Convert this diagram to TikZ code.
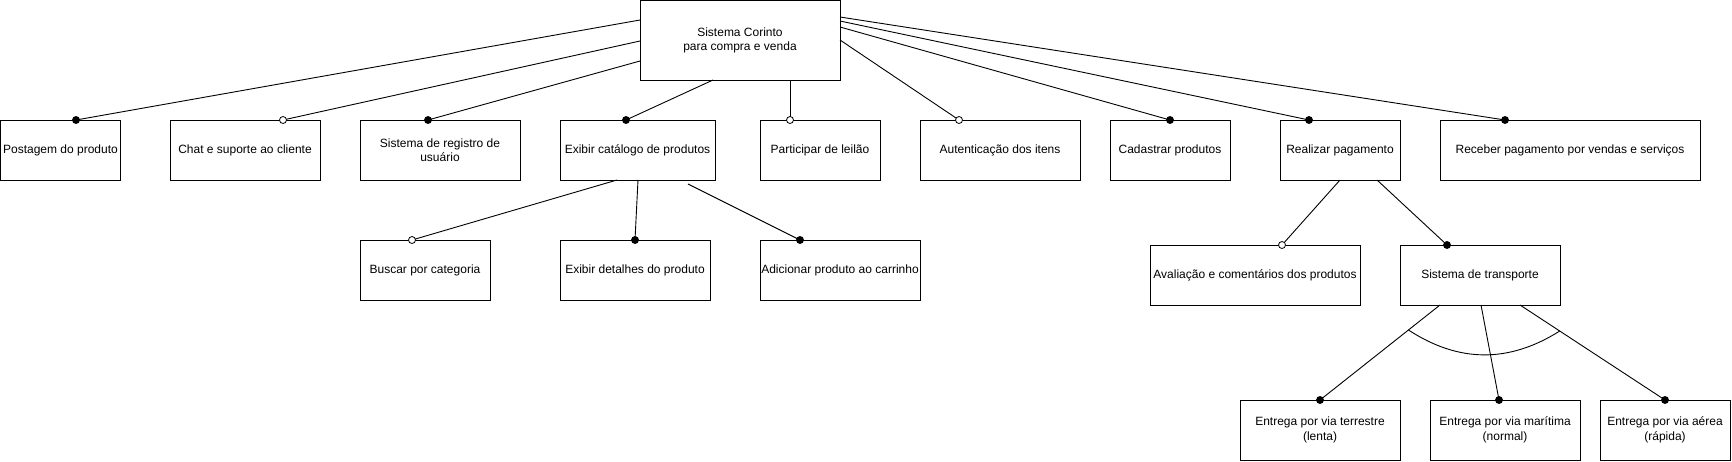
\documentclass[tikz,border=0pt]{standalone}
\usepackage{fontspec}
\setmainfont{Liberation Sans}
\usetikzlibrary{calc}
\begin{document}
\begin{tikzpicture}[x=1pt,y=-1pt,
  box/.style={draw,line width=1pt,inner sep=1pt,outer sep=0pt,anchor=north west,align=center,font=\fontsize{12}{14.5}\selectfont},
  link/.style={line width=0.9pt},
  mand/.style={circle,fill=black,draw=black,line width=0.8pt,minimum size=7pt,inner sep=0pt},
  opt/.style={circle,fill=white,draw=black,line width=0.8pt,minimum size=7pt,inner sep=0pt}]
\useasboundingbox (0,0) rectangle (1732,461);
% boxes
\node[box,minimum width=200pt,minimum height=79.5pt] (root) at (640,0.5) {Sistema Corinto\\para compra e venda};
\node[box,minimum width=120pt,minimum height=60pt] (post) at (0.5,120) {Postagem do produto};
\node[box,minimum width=150pt,minimum height=60pt] (chat) at (170,120) {Chat e suporte ao cliente};
\node[box,minimum width=160pt,minimum height=60pt] (reg) at (360,120) {Sistema de registro de\\usuário};
\node[box,minimum width=155pt,minimum height=60pt] (cat) at (560,120) {Exibir catálogo de produtos};
\node[box,minimum width=120pt,minimum height=60pt] (leil) at (760,120) {Participar de leilão};
\node[box,minimum width=160pt,minimum height=60pt] (aut) at (920,120) {Autenticação dos itens};
\node[box,minimum width=120pt,minimum height=60pt] (cad) at (1110,120) {Cadastrar produtos};
\node[box,minimum width=120pt,minimum height=60pt] (real) at (1280,120) {Realizar pagamento};
\node[box,minimum width=260pt,minimum height=60pt] (rec) at (1440,120) {Receber pagamento por vendas e serviços};
\node[box,minimum width=130pt,minimum height=60pt] (busc) at (360,240) {Buscar por categoria};
\node[box,minimum width=150pt,minimum height=60pt] (det) at (560,240) {Exibir detalhes do produto};
\node[box,minimum width=160pt,minimum height=60pt] (adic) at (760,240) {Adicionar produto ao carrinho};
\node[box,minimum width=210pt,minimum height=60pt] (aval) at (1150,245) {Avaliação e comentários dos produtos};
\node[box,minimum width=160pt,minimum height=60pt] (trans) at (1400,245) {Sistema de transporte};
\node[box,minimum width=160pt,minimum height=60pt] (terr) at (1240,400) {Entrega por via terrestre\\(lenta)};
\node[box,minimum width=150pt,minimum height=60pt] (mar) at (1430,400) {Entrega por via marítima\\(normal)};
\node[box,minimum width=130pt,minimum height=60pt] (aer) at (1600,400) {Entrega por via aérea\\(rápida)};
% ports
\coordinate (r1) at (640,20);
\coordinate (r2) at (640,41);
\coordinate (r3) at (640,61);
\coordinate (r4) at (713,80);
\coordinate (r5) at (790,80);
\coordinate (r6) at (840,40);
\coordinate (r7) at (840,27);
\coordinate (r8) at (840,21);
\coordinate (r9) at (840,17);
\coordinate (c1) at (617,180);
\coordinate (c2) at (638,180);
\coordinate (c3) at (688,184);
\coordinate (p1) at (1340,180);
\coordinate (p2) at (1377,180);
\coordinate (t1) at (1440,305);
\coordinate (t2) at (1481,305);
\coordinate (t3) at (1520,305);
% end markers positions
\coordinate (e-post) at (76,120);
\coordinate (e-chat) at (283,120);
\coordinate (e-reg) at (428,120);
\coordinate (e-cat) at (626,120);
\coordinate (e-leil) at (790,120);
\coordinate (e-aut) at (959,120);
\coordinate (e-cad) at (1170,120);
\coordinate (e-real) at (1309,120);
\coordinate (e-rec) at (1505,120);
\coordinate (e-busc) at (412,240);
\coordinate (e-det) at (635,240);
\coordinate (e-adic) at (800,240);
\coordinate (e-aval) at (1282,245);
\coordinate (e-trans) at (1447,245);
\coordinate (e-terr) at (1320,400);
\coordinate (e-mar) at (1499,400);
\coordinate (e-aer) at (1665,400);
% connectors
\draw[link] (r1) -- (e-post);
\draw[link] (r2) -- (e-chat);
\draw[link] (r3) -- (e-reg);
\draw[link] (r4) -- (e-cat);
\draw[link] (r5) -- (e-leil);
\draw[link] (r6) -- (e-aut);
\draw[link] (r7) -- (e-cad);
\draw[link] (r8) -- (e-real);
\draw[link] (r9) -- (e-rec);
\draw[link] (c1) -- (e-busc);
\draw[link] (c2) -- (e-det);
\draw[link] (c3) -- (e-adic);
\draw[link] (p1) -- (e-aval);
\draw[link] (p2) -- (e-trans);
\draw[link] (t1) -- (e-terr);
\draw[link] (t2) -- (e-mar);
\draw[link] (t3) -- (e-aer);
% group arc
\coordinate (a1) at ($(t1)!0.263!(e-terr)$);
\coordinate (a2) at ($(t3)!0.274!(e-aer)$);
\draw[link] (a1) .. controls (1459,363) and (1509,363) .. (a2);
% markers
\node[mand] (m-post) at (e-post) {};
\node[opt] (m-chat) at (e-chat) {};
\node[mand] (m-reg) at (e-reg) {};
\node[mand] (m-cat) at (e-cat) {};
\node[opt] (m-leil) at (e-leil) {};
\node[opt] (m-aut) at (e-aut) {};
\node[mand] (m-cad) at (e-cad) {};
\node[mand] (m-real) at (e-real) {};
\node[mand] (m-rec) at (e-rec) {};
\node[opt] (m-busc) at (e-busc) {};
\node[mand] (m-det) at (e-det) {};
\node[mand] (m-adic) at (e-adic) {};
\node[opt] (m-aval) at (e-aval) {};
\node[mand] (m-trans) at (e-trans) {};
\node[mand] (m-terr) at (e-terr) {};
\node[mand] (m-mar) at (e-mar) {};
\node[mand] (m-aer) at (e-aer) {};
\end{tikzpicture}
\end{document}
